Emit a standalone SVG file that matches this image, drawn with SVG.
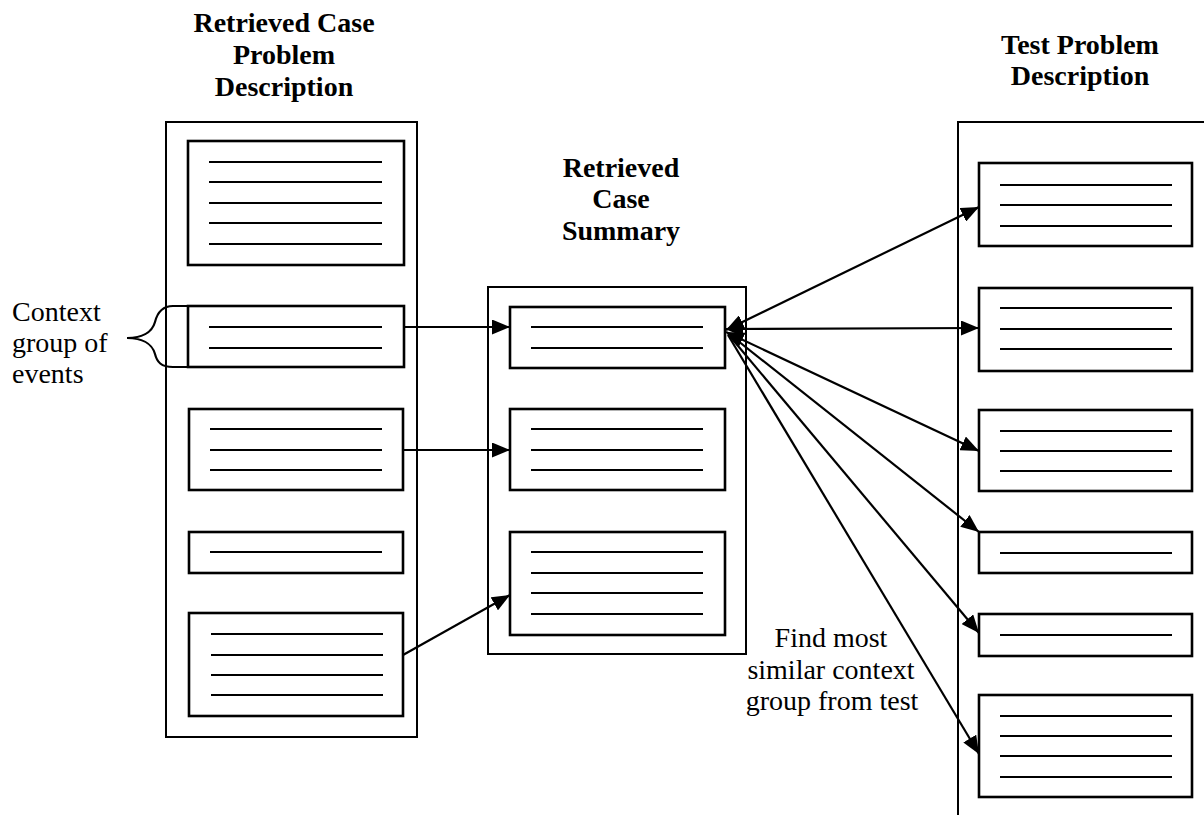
<svg xmlns="http://www.w3.org/2000/svg" width="1204" height="815" viewBox="0 0 1204 815">
  <style>
    .outer { fill: none; stroke: #000; stroke-width: 2; }
    .box { fill: #fff; stroke: #000; stroke-width: 2.6; }
    .ln { stroke: #000; stroke-width: 2.2; }
    .conn { fill: none; stroke: #000; stroke-width: 2.2; }
    .title { font-family: "Liberation Serif", "Times New Roman", serif; font-size: 28px; font-weight: bold; text-anchor: middle; fill: #000; }
    .note { font-family: "Liberation Serif", "Times New Roman", serif; font-size: 28px; fill: #000; }
  </style>
  <defs>
    <marker id="arrow" markerUnits="userSpaceOnUse" markerWidth="19" markerHeight="15" refX="18" refY="7.5" orient="auto-start-reverse">
      <path d="M0,0 L18,7.5 L0,15 z" fill="#000"/>
    </marker>
  </defs>
  <rect width="1204" height="815" fill="#fff"/>

  <!-- Retrieved case problem description -->
  <g id="retrieved-case">
    <text class="title" x="284" y="32">Retrieved Case</text>
    <text class="title" x="284" y="64">Problem</text>
    <text class="title" x="284" y="96">Description</text>
    <rect class="outer" x="166" y="122" width="251" height="615"/>
    <g id="rc-group-1">
      <rect class="box" x="188" y="141" width="216" height="124"/>
      <path class="ln" d="M209,162H382M209,182H382M209,203H382M209,223H382M209,244H382"/>
    </g>
    <g id="rc-group-2">
      <rect class="box" x="188" y="306" width="216" height="61"/>
      <path class="ln" d="M209,327H382M209,348H382"/>
    </g>
    <g id="rc-group-3">
      <rect class="box" x="189" y="409" width="214" height="81"/>
      <path class="ln" d="M210,429H382M210,450H382M210,470H382"/>
    </g>
    <g id="rc-group-4">
      <rect class="box" x="189" y="532" width="214" height="41"/>
      <path class="ln" d="M210,552H382"/>
    </g>
    <g id="rc-group-5">
      <rect class="box" x="189" y="613" width="214" height="103"/>
      <path class="ln" d="M211,634H383M211,655H383M211,675H383M211,695H383"/>
    </g>
  </g>

  <!-- Brace label for a context group -->
  <g id="context-label">
    <path class="conn" d="M188,306H173C161,306 157,314 155,322C152,333 141,338 127,338C141,338 152,343 155,354C157,362 161,367 173,367H188"/>
    <text class="note" x="12" y="321">Context</text>
    <text class="note" x="12" y="352">group of</text>
    <text class="note" x="12" y="383">events</text>
  </g>

  <!-- Retrieved case summary -->
  <g id="case-summary">
    <text class="title" x="621" y="177">Retrieved</text>
    <text class="title" x="621" y="208">Case</text>
    <text class="title" x="621" y="240">Summary</text>
    <rect class="outer" x="488" y="287" width="258" height="367"/>
    <g id="cs-group-1">
      <rect class="box" x="510" y="307" width="215" height="61"/>
      <path class="ln" d="M531,327H703M531,348H703"/>
    </g>
    <g id="cs-group-2">
      <rect class="box" x="510" y="409" width="215" height="81"/>
      <path class="ln" d="M531,429H703M531,450H703M531,470H703"/>
    </g>
    <g id="cs-group-3">
      <rect class="box" x="510" y="532" width="215" height="103"/>
      <path class="ln" d="M531,552H703M531,573H703M531,593H703M531,614H703"/>
    </g>
  </g>

  <!-- Test problem description -->
  <g id="test-problem">
    <text class="title" x="1080" y="54">Test Problem</text>
    <text class="title" x="1080" y="85">Description</text>
    <rect class="outer" x="958" y="122" width="270" height="720"/>
    <g id="tp-group-1">
      <rect class="box" x="979" y="163" width="213" height="83"/>
      <path class="ln" d="M1000,185H1172M1000,205H1172M1000,226H1172"/>
    </g>
    <g id="tp-group-2">
      <rect class="box" x="979" y="288" width="213" height="83"/>
      <path class="ln" d="M1000,308H1172M1000,329H1172M1000,349H1172"/>
    </g>
    <g id="tp-group-3">
      <rect class="box" x="979" y="410" width="213" height="81"/>
      <path class="ln" d="M1000,431H1172M1000,451H1172M1000,471H1172"/>
    </g>
    <g id="tp-group-4">
      <rect class="box" x="979" y="532" width="213" height="41"/>
      <path class="ln" d="M1000,553H1172"/>
    </g>
    <g id="tp-group-5">
      <rect class="box" x="979" y="614" width="213" height="42"/>
      <path class="ln" d="M1000,635H1172"/>
    </g>
    <g id="tp-group-6">
      <rect class="box" x="979" y="695" width="213" height="102"/>
      <path class="ln" d="M1000,716H1172M1000,736H1172M1000,756H1172M1000,777H1172"/>
    </g>
  </g>

  <text class="note" x="831" y="647" text-anchor="middle">Find most</text>
  <text class="note" x="831" y="679" text-anchor="middle">similar context</text>
  <text class="note" x="832" y="710" text-anchor="middle">group from test</text>

  <!-- Connectors -->
  <g id="connectors">
    <line class="conn" x1="404" y1="327" x2="510" y2="327" marker-end="url(#arrow)"/>
    <line class="conn" x1="403" y1="450" x2="510" y2="450" marker-end="url(#arrow)"/>
    <line class="conn" x1="403" y1="655" x2="510" y2="595" marker-end="url(#arrow)"/>
    <line class="conn" x1="726" y1="330" x2="979" y2="207" marker-start="url(#arrow)" marker-end="url(#arrow)"/>
    <line class="conn" x1="725" y1="329" x2="979" y2="328" marker-start="url(#arrow)" marker-end="url(#arrow)"/>
    <line class="conn" x1="726" y1="332" x2="979" y2="451" marker-start="url(#arrow)" marker-end="url(#arrow)"/>
    <line class="conn" x1="728" y1="333" x2="979" y2="532" marker-end="url(#arrow)"/>
    <line class="conn" x1="728" y1="334" x2="979" y2="633" marker-end="url(#arrow)"/>
    <line class="conn" x1="728" y1="335" x2="979" y2="754" marker-end="url(#arrow)"/>
  </g>
</svg>
